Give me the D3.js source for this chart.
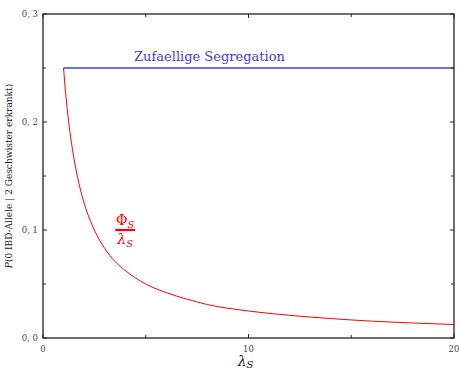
<!DOCTYPE html>
<html>
<head>
<meta charset="utf-8">
<script src="https://cdn.jsdelivr.net/npm/d3@7"></script>
<style>
  body { margin: 0; background: #fff; }
</style>
</head>
<body>
<svg id="chart" width="459" height="369"></svg>
<script>
// values
const lambdaValues = [1, 1.1, 1.25, 1.5, 1.75, 2, 2.5, 3, 3.5, 4, 5, 6, 7, 8, 10, 12, 14, 16, 18, 20];
const probValues = [0.25, 0.227, 0.2, 0.167, 0.143, 0.125, 0.1, 0.083, 0.071, 0.0625, 0.05, 0.042, 0.036, 0.031, 0.025, 0.021, 0.018, 0.0156, 0.0139, 0.0125];
const randomLevel = 0.25;
const randomRange = [1, 20];
const xTicks = [0, 10, 20];
const xMinorTicks = [5, 15];
const yTicks = [0, 0.1, 0.2, 0.3];
const yMinorTicks = [0.05, 0.15, 0.25];

const serif = "'DejaVu Serif', serif";
const svg = d3.select("#chart").attr("font-family", serif);
const margin = { top: 14, right: 5, bottom: 31, left: 43 };
const width = +svg.attr("width") - margin.left - margin.right;
const height = +svg.attr("height") - margin.top - margin.bottom;

const x = d3.scaleLinear().domain([0, 20]).range([0, width]);
const y = d3.scaleLinear().domain([0, 0.3]).range([height, 0]);

const g = svg.append("g").attr("transform", `translate(${margin.left},${margin.top})`);

const fmt = d => d3.format(".1f")(d).replace(".", ", ");

// curves
const line = d3.line().x(d => x(d[0])).y(d => y(d[1])).curve(d3.curveMonotoneX);
g.append("path")
  .datum(lambdaValues.map((l, i) => [l, probValues[i]]))
  .attr("d", line)
  .attr("fill", "none")
  .attr("stroke", "#ff0000")
  .attr("stroke-width", 1);

g.append("path")
  .datum(randomRange.map(l => [l, randomLevel]))
  .attr("d", line)
  .attr("fill", "none")
  .attr("stroke", "#3b3bf0")
  .attr("stroke-width", 1.3);

// frame with inward ticks
const axisColor = "#222";
g.append("rect").attr("width", width).attr("height", height)
  .attr("fill", "none").attr("stroke", axisColor).attr("stroke-width", 1.3);

function xTickMarks(vals, len) {
  vals.forEach(v => {
    g.append("line").attr("x1", x(v)).attr("x2", x(v)).attr("y1", height).attr("y2", height - len).attr("stroke", axisColor);
    g.append("line").attr("x1", x(v)).attr("x2", x(v)).attr("y1", 0).attr("y2", len).attr("stroke", axisColor);
  });
}
function yTickMarks(vals, len) {
  vals.forEach(v => {
    g.append("line").attr("x1", 0).attr("x2", len).attr("y1", y(v)).attr("y2", y(v)).attr("stroke", axisColor);
    g.append("line").attr("x1", width).attr("x2", width - len).attr("y1", y(v)).attr("y2", y(v)).attr("stroke", axisColor);
  });
}
xTickMarks(xTicks, 4);
xTickMarks(xMinorTicks, 3);
yTickMarks(yTicks, 4);
yTickMarks(yMinorTicks, 3);

g.selectAll(".xl").data(xTicks).enter().append("text")
  .attr("x", d => x(d)).attr("y", height + 14)
  .attr("text-anchor", "middle").attr("font-size", 8.5).attr("fill", "#444")
  .text(d => d);

g.selectAll(".yl").data(yTicks).enter().append("text")
  .attr("x", -5).attr("y", d => y(d) + 3)
  .attr("text-anchor", "end").attr("font-size", 8.5).attr("fill", "#444")
  .text(fmt);

// axis titles
const xt = g.append("text").attr("x", width / 2 - 3).attr("y", height + 28)
  .attr("text-anchor", "middle").attr("font-size", 14).attr("fill", "#111");
xt.append("tspan").attr("font-style", "italic").text("λ");
xt.append("tspan").attr("font-style", "italic").attr("font-size", 10).attr("dy", 2).text("S");

const yt = svg.append("text")
  .attr("transform", `translate(12,${margin.top + height / 2}) rotate(-90)`)
  .attr("text-anchor", "middle").attr("font-size", 9).attr("fill", "#222");
yt.append("tspan").attr("font-style", "italic").text("P");
yt.append("tspan").text("(0 IBD-Allele | 2 Geschwister erkrankt)");

// annotations
g.append("text").attr("x", x(8.1)).attr("y", y(0.25) - 7)
  .attr("text-anchor", "middle").attr("font-size", 13).attr("fill", "#3b3bf0")
  .text("Zufaellige Segregation");

const fx = x(4.0);
const fy = y(0.1);
const num = g.append("text").attr("x", fx).attr("y", fy - 5)
  .attr("text-anchor", "middle").attr("font-size", 14).attr("fill", "#ff0000");
num.append("tspan").text("Φ");
num.append("tspan").attr("font-style", "italic").attr("font-size", 10).attr("dy", 3).text("S");
g.append("line").attr("x1", fx - 10).attr("x2", fx + 10).attr("y1", fy).attr("y2", fy)
  .attr("stroke", "#ff0000").attr("stroke-width", 2.2);
const den = g.append("text").attr("x", fx).attr("y", fy + 14)
  .attr("text-anchor", "middle").attr("font-size", 14).attr("fill", "#ff0000");
den.append("tspan").attr("font-style", "italic").text("λ");
den.append("tspan").attr("font-style", "italic").attr("font-size", 10).attr("dy", 3).text("S");
</script>
</body>
</html>
